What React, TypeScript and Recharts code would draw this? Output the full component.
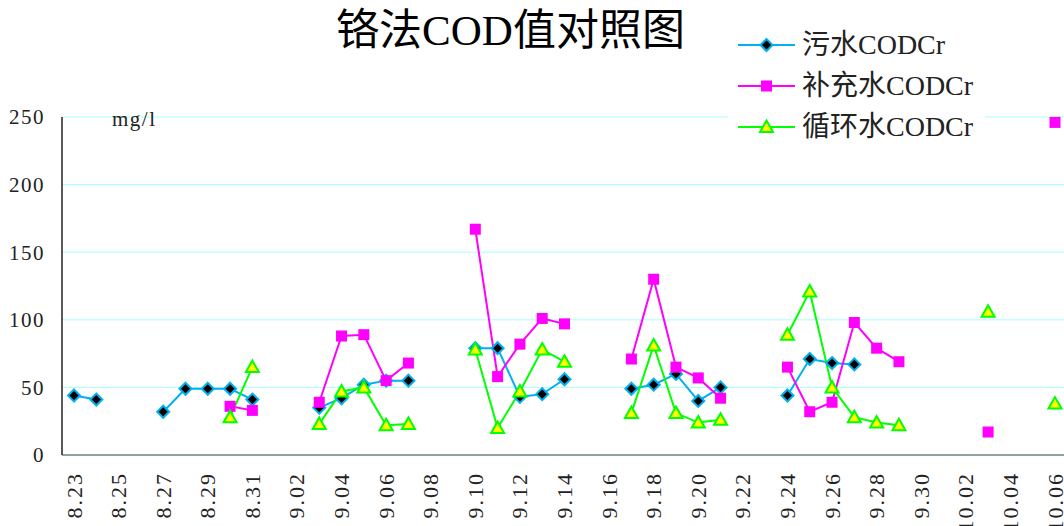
import { LineChart, Line, XAxis, YAxis, CartesianGrid } from 'recharts';

const FONT = '"Liberation Serif", "Noto Sans CJK SC", serif';

const dates = [
  '8.23', '8.24', '8.25', '8.26', '8.27', '8.28', '8.29', '8.30', '8.31',
  '9.01', '9.02', '9.03', '9.04', '9.05', '9.06', '9.07', '9.08', '9.09', '9.10',
  '9.11', '9.12', '9.13', '9.14', '9.15', '9.16', '9.17', '9.18', '9.19', '9.20',
  '9.21', '9.22', '9.23', '9.24', '9.25', '9.26', '9.27', '9.28', '9.29', '9.30',
  '10.01', '10.02', '10.03', '10.04', '10.05', '10.06',
];

// 污水CODCr
const sewage = [
  44, 41, null, null, 32, 49, 49, 49, 41,
  null, null, 35, 42, 52, 55, 55, null, null, 79,
  79, 43, 45, 56, null, null, 49, 52, 60, 40,
  50, null, null, 44, 71, 68, 67, null, null, null,
  null, null, null, null, null, null,
];

// 补充水CODCr
const makeup = [
  null, null, null, null, null, null, null, 36, 33,
  null, null, 39, 88, 89, 55, 68, null, null, 167,
  58, 82, 101, 97, null, null, 71, 130, 65, 57,
  42, null, null, 65, 32, 39, 98, 79, 69, null,
  null, null, 17, null, null, 246,
];

// 循环水CODCr
const circulating = [
  null, null, null, null, null, null, null, 28, 65,
  null, null, 23, 47, 50, 22, 23, null, null, 78,
  20, 47, 78, 69, null, null, 31, 81, 31, 24,
  26, null, null, 89, 121, 50, 28, 24, 22, null,
  null, null, 106, null, null, 38,
];

const yTicks = [0, 50, 100, 150, 200, 250];

const data = dates.map((d, i) => ({
  date: d,
  sewage: sewage[i],
  makeup: makeup[i],
  circulating: circulating[i],
}));

const BLUE = '#00b0f0';
const MAGENTA = '#ff00ff';
const GREEN = '#00ff00';
const YELLOW = '#ffff00';

const Diamond = ({ cx, cy, size = 6 }: any) => (
  <polygon
    points={`${cx},${cy - size} ${cx + size},${cy} ${cx},${cy + size} ${cx - size},${cy}`}
    fill="#000"
    stroke={BLUE}
    strokeWidth={2}
  />
);

const Square = ({ cx, cy, size = 11 }: any) => (
  <rect x={cx - size / 2} y={cy - size / 2} width={size} height={size} fill={MAGENTA} />
);

const Triangle = ({ cx, cy }: any) => (
  <polygon
    points={`${cx},${cy - 6.5} ${cx + 6.5},${cy + 5} ${cx - 6.5},${cy + 5}`}
    fill={YELLOW}
    stroke={GREEN}
    strokeWidth={2}
  />
);

const dotFor = (Shape: any) => (props: any) => {
  const { cx, cy, value, index } = props;
  if (value == null || cy == null || isNaN(cy)) return <g key={`e-${index}`} />;
  return (
    <g key={`d-${index}`}>
      <Shape cx={cx} cy={cy} />
    </g>
  );
};

const XTick = ({ x, y, payload }: any) => (
  <text
    transform={`translate(${x},${y + 9}) rotate(-90)`}
    textAnchor="end"
    dominantBaseline="central"
    fontFamily={FONT}
    fontSize={22}
    letterSpacing={2}
    fill="#222"
  >
    {payload.value}
  </text>
);

const legendItems = [
  { name: '污水CODCr', color: BLUE, Shape: Diamond },
  { name: '补充水CODCr', color: MAGENTA, Shape: Square },
  { name: '循环水CODCr', color: GREEN, Shape: Triangle },
];

export default function App() {
  return (
    <div
      style={{
        position: 'absolute',
        left: 0,
        top: 0,
        width: 1064,
        height: 526,
        overflow: 'hidden',
        background: '#fff',
        fontFamily: FONT,
      }}
    >
      <LineChart
        width={1080}
        height={526}
        data={data}
        margin={{ top: 117, right: 14, bottom: 0, left: 0 }}
      >
        <CartesianGrid vertical={false} stroke="#a8ffff" strokeWidth={1} />
        <XAxis
          dataKey="date"
          interval={1}
          height={71}
          padding={{ left: 12, right: 11 }}
          tickLine={false}
          axisLine={{ stroke: '#808080', strokeWidth: 1.5 }}
          tick={<XTick />}
        />
        <YAxis
          width={62}
          domain={[0, 250]}
          ticks={yTicks}
          tickLine={false}
          axisLine={{ stroke: '#222', strokeWidth: 1.5 }}
          tick={{ fontFamily: FONT, fontSize: 21, letterSpacing: 1.5, fill: '#222', dx: -9 }}
        />
        <Line
          dataKey="sewage"
          stroke={BLUE}
          strokeWidth={2}
          dot={dotFor(Diamond)}
          activeDot={false}
          isAnimationActive={false}
        />
        <Line
          dataKey="makeup"
          stroke={MAGENTA}
          strokeWidth={2}
          dot={dotFor(Square)}
          activeDot={false}
          isAnimationActive={false}
        />
        <Line
          dataKey="circulating"
          stroke={GREEN}
          strokeWidth={2}
          dot={dotFor(Triangle)}
          activeDot={false}
          isAnimationActive={false}
        />
      </LineChart>

      <div
        style={{
          position: 'absolute',
          left: 0,
          width: 1021,
          top: 9,
          textAlign: 'center',
          fontSize: 43,
          lineHeight: '44px',
          color: '#000',
        }}
      >
        铬法COD值对照图
      </div>

      <div
        style={{
          position: 'absolute',
          left: 112,
          top: 107,
          fontSize: 21,
          letterSpacing: 1.5,
          lineHeight: '24px',
          color: '#222',
        }}
      >
        mg/l
      </div>

      <div
        style={{
          position: 'absolute',
          left: 728,
          top: 24,
          width: 257,
          background: '#fff',
          padding: '0 0 0 10px',
          boxSizing: 'border-box',
        }}
      >
        {legendItems.map((it) => (
          <div
            key={it.name}
            style={{ display: 'flex', alignItems: 'center', height: 41 }}
          >
            <svg width={57} height={20} style={{ flexShrink: 0 }}>
              <line x1={0} y1={10} x2={57} y2={10} stroke={it.color} strokeWidth={2} />
              <it.Shape cx={28.5} cy={10} />
            </svg>
            <span style={{ marginLeft: 7, fontSize: 28, lineHeight: '41px', color: '#222' }}>
              {it.name}
            </span>
          </div>
        ))}
      </div>
    </div>
  );
}
